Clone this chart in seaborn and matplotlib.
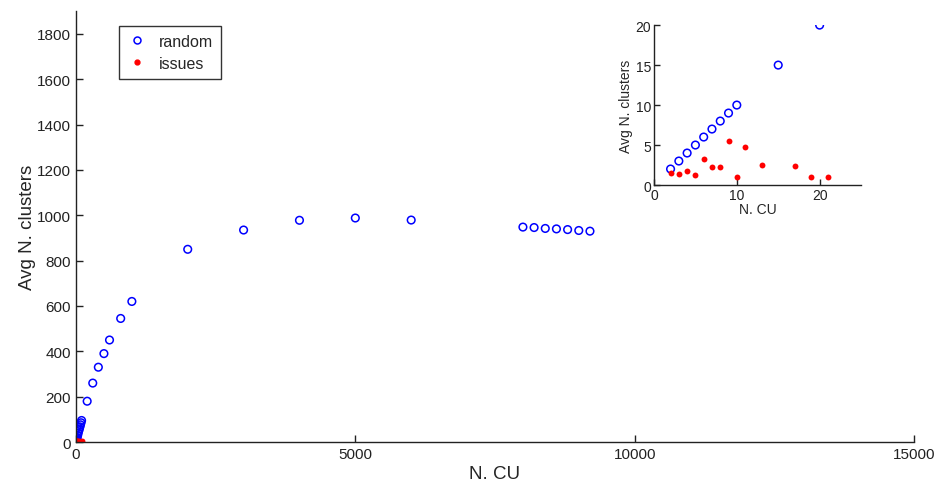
import numpy as np
import pandas as pd
import matplotlib
matplotlib.use("Agg")
import matplotlib.pyplot as plt
import seaborn as sns
from matplotlib.lines import Line2D

# ---------------------------------------------------------------------------
# data
# ---------------------------------------------------------------------------
random_ncu = [2, 3, 4, 5, 6, 7, 8, 9, 10, 15, 20, 30, 40, 50, 60, 70, 80, 90, 100,
              200, 300, 400, 500, 600, 800, 1000,
              2000, 3000, 4000, 5000, 6000,
              8000, 8200, 8400, 8600, 8800, 9000, 9200]
random_clusters = [2, 3, 4, 5, 6, 7, 8, 9, 10, 15, 20, 30, 40, 50, 58, 67, 76, 85, 95,
                   180, 260, 330, 390, 450, 545, 620,
                   850, 935, 978, 988, 979,
                   948, 946, 942, 940, 937, 933, 930]

issues_ncu = [2, 3, 4, 5, 6, 7, 8, 9, 10, 11, 13, 17, 19, 21, 30, 50, 70, 100]
issues_clusters = [1.5, 1.4, 1.8, 1.2, 3.3, 2.3, 2.3, 5.5, 1.0, 4.7, 2.5, 2.4, 1.0, 1.0,
                   2.0, 3.0, 2.0, 4.0]

df_random = pd.DataFrame({"ncu": random_ncu, "clusters": random_clusters})
df_issues = pd.DataFrame({"ncu": issues_ncu, "clusters": issues_clusters})

sns.set_style("white")
plt.rcParams["font.family"] = ["Liberation Sans", "DejaVu Sans"]

fig = plt.figure(figsize=(9.44, 4.89), dpi=100)


def draw(ax, msize_open, msize_dot):
    sns.scatterplot(data=df_random, x="ncu", y="clusters", ax=ax, marker="o",
                    s=msize_open, facecolors="none", edgecolors="blue",
                    linewidth=1.1, label="random", legend=False)
    sns.scatterplot(data=df_issues, x="ncu", y="clusters", ax=ax, marker="o",
                    s=msize_dot, color="red", edgecolor="red", linewidth=0,
                    label="issues", legend=False)
    for side in ["top", "right"]:
        ax.spines[side].set_visible(False)
    for side in ["left", "bottom"]:
        ax.spines[side].set_color("#222222")
        ax.spines[side].set_linewidth(1.0)
    ax.tick_params(direction="in", length=5, width=1, colors="#222222",
                   left=True, bottom=True)


# main axes
ax = fig.add_axes([0.0805, 0.094, 0.8877, 0.881])
draw(ax, 30, 18)
ax.set_xlim(0, 15000)
ax.set_ylim(0, 1900)
ax.set_xticks([0, 5000, 10000, 15000])
ax.set_yticks(range(0, 1801, 200))
ax.tick_params(labelsize=11)
ax.set_xlabel("N. CU", fontsize=13.5, labelpad=3)
ax.set_ylabel("Avg N. clusters", fontsize=13.5, labelpad=1)

handles = [Line2D([], [], marker="o", ls="none", mfc="none", mec="blue",
                  mew=1.1, ms=5),
           Line2D([], [], marker="o", ls="none", mfc="red", mec="red", ms=3.5)]
leg = ax.legend(handles, ["random", "issues"], loc="upper left",
                bbox_to_anchor=(0.042, 0.985), fontsize=11.5, frameon=True,
                fancybox=False, edgecolor="black", handlelength=1.2,
                borderpad=0.5, labelspacing=0.45)
leg.get_frame().set_linewidth(1.0)

# inset axes
axin = fig.add_axes([0.6928, 0.6196, 0.2193, 0.327])
draw(axin, 30, 18)
axin.set_xlim(0, 25)
axin.set_ylim(0, 20)
axin.set_xticks([0, 10, 20])
axin.set_yticks([0, 5, 10, 15, 20])
axin.tick_params(labelsize=10, length=4, pad=2)
axin.set_xlabel("N. CU", fontsize=10, labelpad=0)
axin.set_ylabel("Avg N. clusters", fontsize=10, labelpad=2)

fig.savefig("out.png", dpi=100)
